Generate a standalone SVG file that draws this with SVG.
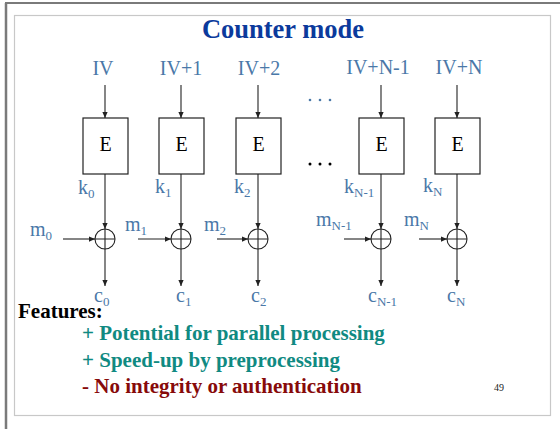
<svg xmlns="http://www.w3.org/2000/svg" width="560" height="429" viewBox="0 0 560 429">
  <style>
    .lbl { font-family: "Liberation Serif", "Times New Roman", serif; fill: #4a78a8; font-size: 20px; }
    .sub { font-size: 13px; }
    .box { fill: #ffffff; stroke: #222222; stroke-width: 1.2; }
    .etxt { font-family: "Liberation Serif", serif; font-size: 20px; fill: #000000; text-anchor: middle; }
    .wire { stroke: #222222; stroke-width: 1.1; fill: none; }
    .xor { fill: #ffffff; stroke: #222222; stroke-width: 1.1; }
    .bold { font-family: "Liberation Serif", "Times New Roman", serif; font-weight: bold; font-size: 21px; }
  </style>
  <defs>
    <marker id="ah" viewBox="0 0 8 8" refX="8" refY="4" markerWidth="6" markerHeight="6" markerUnits="userSpaceOnUse" orient="auto">
      <path d="M0,0.5 L8,4 L0,7.5 z" fill="#222222"/>
    </marker>
  </defs>

  <!-- slide frame -->
  <rect x="0" y="0" width="560" height="429" fill="#ffffff"/>
  <line x1="5" y1="3" x2="560" y2="3" stroke="#7a7a7a" stroke-width="2"/>
  <line x1="6" y1="3" x2="6" y2="429" stroke="#7a7a7a" stroke-width="2.5"/>
  <rect x="14.5" y="15.5" width="536" height="400" fill="none" stroke="#c8c8c8" stroke-width="1.2"/>

  <!-- title -->
  <text x="283" y="38" text-anchor="middle" font-family="Liberation Serif, Times New Roman, serif" font-weight="bold" font-size="26.5" fill="#0b3a9c">Counter mode</text>

  <!-- counter inputs -->
  <g id="inputs" class="lbl" text-anchor="middle">
    <text x="103" y="75">IV</text>
    <text x="181" y="75">IV+1</text>
    <text x="259" y="75">IV+2</text>
    <text x="378" y="74">IV+N-1</text>
    <text x="459" y="74">IV+N</text>
  </g>

  <!-- ellipses between columns -->
  <g id="dots">
    <circle cx="310" cy="100" r="1.3" fill="#4a78a8"/>
    <circle cx="320" cy="100" r="1.3" fill="#4a78a8"/>
    <circle cx="330" cy="100" r="1.3" fill="#4a78a8"/>
    <circle cx="310" cy="164" r="1.5" fill="#000000"/>
    <circle cx="320" cy="164" r="1.5" fill="#000000"/>
    <circle cx="330" cy="164" r="1.5" fill="#000000"/>
  </g>

  <!-- connectors -->
  <g id="connectors" class="wire">
    <!-- counter into E -->
    <line x1="105" y1="85" x2="105" y2="118" marker-end="url(#ah)"/>
    <line x1="181" y1="85" x2="181" y2="118" marker-end="url(#ah)"/>
    <line x1="258" y1="85" x2="258" y2="118" marker-end="url(#ah)"/>
    <line x1="381" y1="85" x2="381" y2="118" marker-end="url(#ah)"/>
    <line x1="457" y1="85" x2="457" y2="118" marker-end="url(#ah)"/>
    <!-- keystream into XOR -->
    <line x1="105" y1="174" x2="105" y2="229" marker-end="url(#ah)"/>
    <line x1="181" y1="174" x2="181" y2="229" marker-end="url(#ah)"/>
    <line x1="258" y1="174" x2="258" y2="229" marker-end="url(#ah)"/>
    <line x1="381" y1="174" x2="381" y2="229" marker-end="url(#ah)"/>
    <line x1="457" y1="174" x2="457" y2="229" marker-end="url(#ah)"/>
    <!-- plaintext into XOR -->
    <line x1="63" y1="239" x2="95" y2="239" marker-end="url(#ah)"/>
    <line x1="138" y1="239" x2="171" y2="239" marker-end="url(#ah)"/>
    <line x1="217" y1="239" x2="248" y2="239" marker-end="url(#ah)"/>
    <line x1="344" y1="239" x2="371" y2="239" marker-end="url(#ah)"/>
    <line x1="419" y1="239" x2="447" y2="239" marker-end="url(#ah)"/>
    <!-- ciphertext out -->
    <line x1="105" y1="249" x2="105" y2="286" marker-end="url(#ah)"/>
    <line x1="181" y1="249" x2="181" y2="286" marker-end="url(#ah)"/>
    <line x1="258" y1="249" x2="258" y2="286" marker-end="url(#ah)"/>
    <line x1="381" y1="249" x2="381" y2="286" marker-end="url(#ah)"/>
    <line x1="457" y1="249" x2="457" y2="286" marker-end="url(#ah)"/>
  </g>

  <!-- block cipher nodes -->
  <g id="E0"><rect class="box" x="83" y="118" width="45" height="56"/><text class="etxt" x="105.5" y="151">E</text></g>
  <g id="E1"><rect class="box" x="159" y="118" width="45" height="56"/><text class="etxt" x="181.5" y="151">E</text></g>
  <g id="E2"><rect class="box" x="236" y="118" width="45" height="56"/><text class="etxt" x="258.5" y="151">E</text></g>
  <g id="EN1"><rect class="box" x="359" y="118" width="45" height="56"/><text class="etxt" x="381.5" y="151">E</text></g>
  <g id="EN"><rect class="box" x="435" y="118" width="45" height="56"/><text class="etxt" x="457.5" y="151">E</text></g>

  <!-- XOR nodes -->
  <g id="X0"><circle class="xor" cx="105" cy="239" r="10"/><path class="wire" d="M95,239 H115 M105,229 V249"/></g>
  <g id="X1"><circle class="xor" cx="181" cy="239" r="10"/><path class="wire" d="M171,239 H191 M181,229 V249"/></g>
  <g id="X2"><circle class="xor" cx="258" cy="239" r="10"/><path class="wire" d="M248,239 H268 M258,229 V249"/></g>
  <g id="XN1"><circle class="xor" cx="381" cy="239" r="10"/><path class="wire" d="M371,239 H391 M381,229 V249"/></g>
  <g id="XN"><circle class="xor" cx="457" cy="239" r="10"/><path class="wire" d="M447,239 H467 M457,229 V249"/></g>

  <!-- keystream labels -->
  <g id="klabels" class="lbl">
    <text x="78" y="194">k<tspan class="sub" dy="4">0</tspan></text>
    <text x="155" y="193">k<tspan class="sub" dy="4">1</tspan></text>
    <text x="234" y="193">k<tspan class="sub" dy="4">2</tspan></text>
    <text x="344" y="193">k<tspan class="sub" dy="4">N-1</tspan></text>
    <text x="423" y="192">k<tspan class="sub" dy="4">N</tspan></text>
  </g>

  <!-- plaintext labels -->
  <g id="mlabels" class="lbl">
    <text x="30" y="236">m<tspan class="sub" dy="4">0</tspan></text>
    <text x="125" y="231">m<tspan class="sub" dy="4">1</tspan></text>
    <text x="204" y="231">m<tspan class="sub" dy="4">2</tspan></text>
    <text x="316" y="226">m<tspan class="sub" dy="4">N-1</tspan></text>
    <text x="404" y="226">m<tspan class="sub" dy="4">N</tspan></text>
  </g>

  <!-- ciphertext labels -->
  <g id="clabels" class="lbl">
    <text x="94" y="302">c<tspan class="sub" dy="4">0</tspan></text>
    <text x="176" y="302">c<tspan class="sub" dy="4">1</tspan></text>
    <text x="251" y="302">c<tspan class="sub" dy="4">2</tspan></text>
    <text x="368" y="302">c<tspan class="sub" dy="4">N-1</tspan></text>
    <text x="447" y="302">c<tspan class="sub" dy="4">N</tspan></text>
  </g>

  <!-- feature list -->
  <text class="bold" x="18" y="318" fill="#000000">Features:</text>
  <text class="bold" x="82" y="340" fill="#108a82">+ Potential for parallel processing</text>
  <text class="bold" x="82" y="367" fill="#108a82">+ Speed-up by preprocessing</text>
  <text class="bold" x="82" y="393" fill="#870a0a">- No integrity or authentication</text>

  <text x="494" y="391" font-family="Liberation Serif, serif" font-size="10" fill="#222222">49</text>
</svg>
